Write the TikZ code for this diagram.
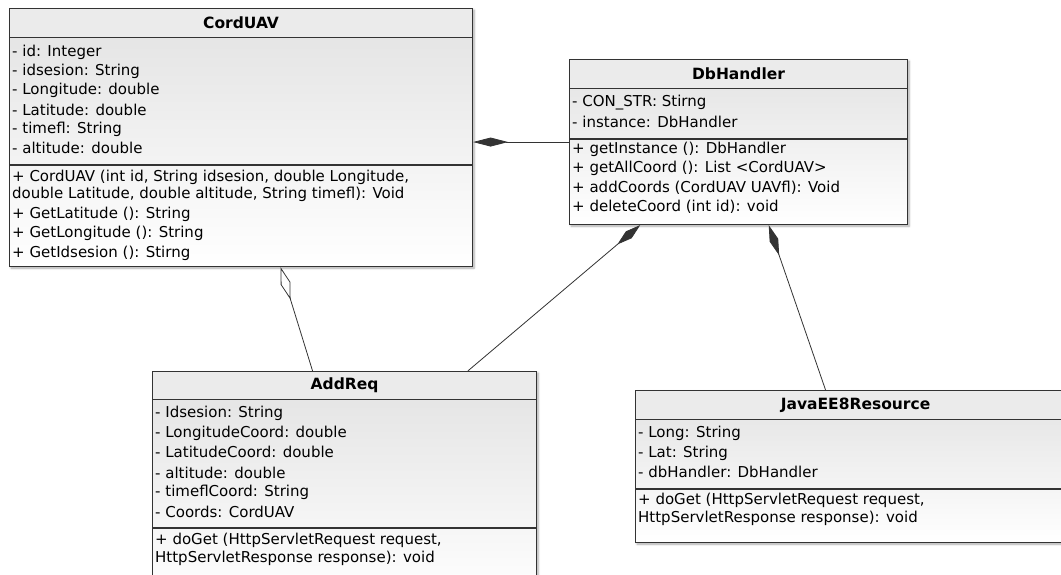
\documentclass[tikz,border=0pt]{standalone}
\usepackage{fontspec}
\setmainfont{DejaVu Sans}
\usepackage{tikz}
\usetikzlibrary{arrows.meta,calc,shadows.blur}
\definecolor{UMLLine}{RGB}{51,51,51}
\definecolor{UMLHead}{RGB}{235,235,235}
\definecolor{UMLBody}{RGB}{226,226,226}

\begin{document}
\begin{tikzpicture}[x=1pt, y=-1pt,
    classbox/.style={draw=UMLLine, line width=1.1pt, anchor=north west, inner sep=0pt,
      top color=UMLBody, bottom color=white,
      blur shadow={shadow xshift=1.5pt, shadow yshift=-1.5pt, shadow blur steps=6, shadow opacity=35}},
    classhead/.style={draw=UMLLine, line width=1.1pt, fill=UMLHead, anchor=north, inner sep=0pt,
      font=\bfseries\fontsize{15.5}{18}\selectfont},
    member/.style={anchor=west, inner sep=0pt, font=\fontsize{15}{18}\selectfont},
    divider/.style={UMLLine, line width=1.1pt},
    comp/.style={UMLLine, line width=0.8pt, -{Diamond[length=#1, width=9pt]}},
    aggr/.style={UMLLine, line width=0.8pt, -{Diamond[open, length=#1, width=10pt]}}]
    \useasboundingbox (0,0) rectangle (1061,575);
    \clip (0,0) rectangle (1061,575);

    % CordUAV
    \node[classbox, minimum width=463pt, minimum height=258pt] (cord) at (9,8) {};
    \node[classhead, minimum width=463pt, minimum height=29pt] (cordHead) at (cord.north) {CordUAV};
    \draw[divider] (9,165) -- (472,165);
    \node[member] (cordA1) at (12,52) {- id: Integer};
    \node[member] (cordA2) at (12,71) {- idsesion: String};
    \node[member] (cordA3) at (12,90) {- Longitude: double};
    \node[member] (cordA4) at (12,110) {- Latitude: double};
    \node[member] (cordA5) at (12,129) {- timefl: String};
    \node[member] (cordA6) at (12,148) {- altitude: double};
    \node[member] (cordM1) at (12,177) {+ CordUAV (int id, String idsesion, double Longitude,};
    \node[member] (cordM1b) at (12,194) {double Latitude, double altitude, String timefl): Void};
    \node[member] (cordM2) at (12,214) {+ GetLatitude (): String};
    \node[member] (cordM3) at (12,233) {+ GetLongitude (): String};
    \node[member] (cordM4) at (12,253) {+ GetIdsesion (): Stirng};

    % DbHandler
    \node[classbox, minimum width=338pt, minimum height=165pt] (dbh) at (569,59) {};
    \node[classhead, minimum width=338pt, minimum height=29pt] (dbhHead) at (dbh.north) {DbHandler};
    \draw[divider] (569,139) -- (907,139);
    \node[member] (dbhA1) at (572,103) {- CON\_STR: Stirng};
    \node[member] (dbhA2) at (572,122) {- instance: DbHandler};
    \node[member] (dbhM1) at (572,149) {+ getInstance (): DbHandler};
    \node[member] (dbhM2) at (572,168) {+ getAllCoord (): List <CordUAV>};
    \node[member] (dbhM3) at (572,188) {+ addCoords (CordUAV UAVfl): Void};
    \node[member] (dbhM4) at (572,207) {+ deleteCoord (int id): void};

    % AddReq
    \node[classbox, minimum width=384pt, minimum height=230pt] (addreq) at (152,371) {};
    \node[classhead, minimum width=384pt, minimum height=28pt] (addreqHead) at (addreq.north) {AddReq};
    \draw[divider] (152,528) -- (536,528);
    \node[member] (addreqA1) at (155,413) {- Idsesion: String};
    \node[member] (addreqA2) at (155,433) {- LongitudeCoord: double};
    \node[member] (addreqA3) at (155,452) {- LatitudeCoord: double};
    \node[member] (addreqA4) at (155,473) {- altitude: double};
    \node[member] (addreqA5) at (155,492) {- timeflCoord: String};
    \node[member] (addreqA6) at (155,512) {- Coords: CordUAV};
    \node[member] (addreqM1) at (155,540) {+ doGet (HttpServletRequest request,};
    \node[member] (addreqM1b) at (155,558) {HttpServletResponse response): void};

    % JavaEE8Resource
    \node[classbox, minimum width=440pt, minimum height=152pt] (javares) at (635,390) {};
    \node[classhead, minimum width=440pt, minimum height=29pt] (javaresHead) at (javares.north) {JavaEE8Resource};
    \draw[divider] (635,489) -- (1075,489);
    \node[member] (javaresA1) at (638,433) {- Long: String};
    \node[member] (javaresA2) at (638,453) {- Lat: String};
    \node[member] (javaresA3) at (638,472) {- dbHandler: DbHandler};
    \node[member] (javaresM1) at (638,500) {+ doGet (HttpServletRequest request,};
    \node[member] (javaresM1b) at (638,518) {HttpServletResponse response): void};

    % relations
    \draw[comp=35pt] (dbh.west) -- (cord.east |- dbh.west);
    \draw[aggr=34pt] ($(addreq.north west)!0.417!(addreq.north east)$) -- ($(cord.south west)!0.585!(cord.south east)$);
    \draw[comp=30pt] ($(addreq.north west)!0.82!(addreq.north east)$) -- ($(dbh.south west)!0.21!(dbh.south east)$);
    \draw[comp=32pt] ($(javares.north west)!0.432!(javares.north east)$) -- ($(dbh.south west)!0.589!(dbh.south east)$);
\end{tikzpicture}
\end{document}
